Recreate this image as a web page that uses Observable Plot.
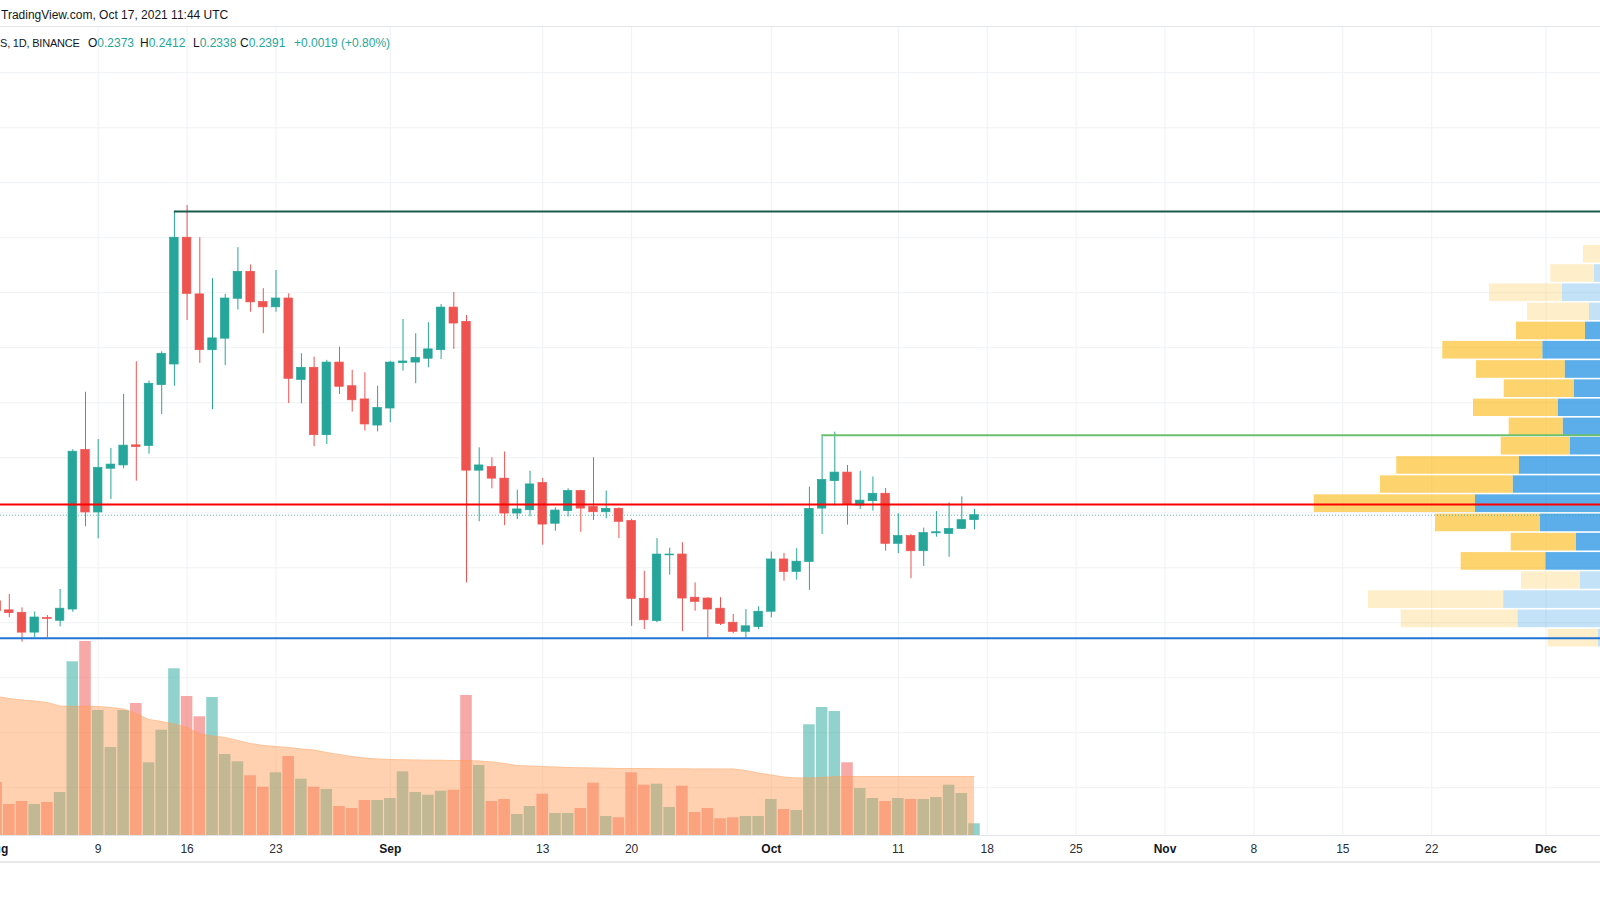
<!DOCTYPE html>
<html>
<head>
<meta charset="utf-8">
<script src="https://cdn.jsdelivr.net/npm/d3@7"></script>
<script src="https://cdn.jsdelivr.net/npm/@observablehq/plot@0.6"></script>
<style>
  html, body { margin: 0; padding: 0; background: #fff; overflow: hidden; }
  #wrap { position: relative; width: 1600px; height: 900px; overflow: hidden; font-family: "Liberation Sans", Arial, sans-serif; color: #131722; }
  #hdr { position: absolute; left: 0; top: 0; width: 1600px; height: 26px; border-bottom: 1px solid #e3e5ec; }
  #hdr span { position: absolute; left: 1px; top: 8px; font-size: 12px; white-space: nowrap; }
  .layer { position: absolute; left: 0; top: 27px; }
  .layer svg { display: block; overflow: hidden; }
  #legend { position: absolute; left: 0; top: 36px; width: 1600px; height: 16px; font-size: 12px; white-space: nowrap; }
  #legend > span { position: absolute; top: 0; }
  .v { color: #26a69a; }
  #axisline { position: absolute; left: 0; top: 861px; width: 1600px; height: 2px; background: #e6e8ee; }
</style>
</head>
<body>
<div id="wrap">
  <div id="hdr"><span>TradingView.com, Oct 17, 2021 11:44 UTC</span></div>
  <div id="layerA" class="layer"></div>
  <div id="layerB" class="layer"></div>
  <div id="layerC" class="layer"></div>
  <div id="layerD" class="layer"></div>
  <div id="legend">
    <span style="left:0px;top:1px;font-size:11px;letter-spacing:-0.2px">S, 1D, BINANCE</span>
    <span style="left:88px">O<span class="v">0.2373</span></span>
    <span style="left:140px">H<span class="v">0.2412</span></span>
    <span style="left:193px">L<span class="v">0.2338</span></span>
    <span style="left:240px">C<span class="v">0.2391</span></span>
    <span style="left:294px" class="v">+0.0019 (+0.80%)</span>
  </div>
  <div id="axisline"></div>
</div>
<script>
// ---------------- DATA ----------------
const dates = [
  "2021-08-01","2021-08-02","2021-08-03","2021-08-04","2021-08-05","2021-08-06","2021-08-07","2021-08-08","2021-08-09","2021-08-10",
  "2021-08-11","2021-08-12","2021-08-13","2021-08-14","2021-08-15","2021-08-16","2021-08-17","2021-08-18","2021-08-19","2021-08-20",
  "2021-08-21","2021-08-22","2021-08-23","2021-08-24","2021-08-25","2021-08-26","2021-08-27","2021-08-28","2021-08-29","2021-08-30",
  "2021-08-31","2021-09-01","2021-09-02","2021-09-03","2021-09-04","2021-09-05","2021-09-06","2021-09-07","2021-09-08","2021-09-09",
  "2021-09-10","2021-09-11","2021-09-12","2021-09-13","2021-09-14","2021-09-15","2021-09-16","2021-09-17","2021-09-18","2021-09-19",
  "2021-09-20","2021-09-21","2021-09-22","2021-09-23","2021-09-24","2021-09-25","2021-09-26","2021-09-27","2021-09-28","2021-09-29",
  "2021-09-30","2021-10-01","2021-10-02","2021-10-03","2021-10-04","2021-10-05","2021-10-06","2021-10-07","2021-10-08","2021-10-09",
  "2021-10-10","2021-10-11","2021-10-12","2021-10-13","2021-10-14","2021-10-15","2021-10-16","2021-10-17"
];
const opens = [
  0.2078,0.2045,0.2036,0.1964,0.2017,0.2007,0.2048,0.2628,0.2401,0.2560,
  0.2572,0.2645,0.2643,0.2864,0.2939,0.3400,0.3194,0.2991,0.3033,0.3178,
  0.3276,0.3166,0.3147,0.3179,0.2883,0.2927,0.2682,0.2946,0.2860,0.2812,
  0.2717,0.2779,0.2944,0.2946,0.2960,0.2991,0.3146,0.3094,0.2553,0.2566,
  0.2524,0.2397,0.2409,0.2508,0.2360,0.2406,0.2479,0.2421,0.2402,0.2414,
  0.2370,0.2087,0.2006,0.2245,0.2248,0.2091,0.2088,0.2051,0.2000,0.1967,
  0.1984,0.2040,0.2230,0.2185,0.2221,0.2415,0.2515,0.2546,0.2426,0.2442,
  0.2469,0.2287,0.2315,0.2260,0.2325,0.2323,0.2341,0.2373
];
const highs = [
  0.2095,0.2103,0.2054,0.2039,0.2026,0.2121,0.2629,0.2838,0.2666,0.2634,
  0.2830,0.2949,0.2879,0.2985,0.3495,0.3517,0.3400,0.3251,0.3194,0.3364,
  0.3301,0.3215,0.3281,0.3196,0.2978,0.2966,0.2954,0.3002,0.2918,0.2909,
  0.2860,0.2951,0.3103,0.3051,0.3091,0.3157,0.3201,0.3117,0.2636,0.2600,
  0.2621,0.2482,0.2551,0.2525,0.2418,0.2487,0.2482,0.2600,0.2479,0.2418,
  0.2376,0.2187,0.2306,0.2271,0.2291,0.2145,0.2091,0.2091,0.2030,0.2048,
  0.2058,0.2257,0.2252,0.2269,0.2493,0.2682,0.2693,0.2572,0.2551,0.2530,
  0.2488,0.2396,0.2321,0.2344,0.2404,0.2436,0.2458,0.2412
];
const lows = [
  0.2030,0.2018,0.1929,0.1945,0.1945,0.1985,0.2038,0.2349,0.2305,0.2448,
  0.2560,0.2515,0.2613,0.2757,0.2860,0.3099,0.2943,0.2775,0.2935,0.3137,
  0.3129,0.3051,0.3129,0.2797,0.2796,0.2640,0.2648,0.2830,0.2766,0.2697,
  0.2694,0.2727,0.2915,0.2869,0.2927,0.2957,0.2994,0.2145,0.2367,0.2487,
  0.2353,0.2375,0.2385,0.2282,0.2333,0.2385,0.2329,0.2372,0.2378,0.2306,
  0.1987,0.1975,0.2000,0.2173,0.1967,0.2042,0.1945,0.1990,0.1960,0.1945,
  0.1975,0.2018,0.2151,0.2155,0.2118,0.2321,0.2424,0.2355,0.2412,0.2406,
  0.2260,0.2251,0.2160,0.2205,0.2311,0.2238,0.2339,0.2338
];
const closes = [
  0.2042,0.2035,0.1964,0.2019,0.2014,0.2051,0.2622,0.2401,0.2563,0.2575,
  0.2644,0.2639,0.2869,0.2978,0.3400,0.3196,0.2991,0.3034,0.3179,0.3276,
  0.3165,0.3147,0.3179,0.2887,0.2927,0.2682,0.2946,0.2858,0.2809,0.2721,
  0.2781,0.2946,0.2950,0.2963,0.2994,0.3146,0.3088,0.2553,0.2572,0.2524,
  0.2397,0.2412,0.2503,0.2357,0.2408,0.2479,0.2415,0.2402,0.2414,0.2367,
  0.2087,0.2009,0.2248,0.2248,0.2088,0.2076,0.2048,0.1996,0.1967,0.1987,
  0.2040,0.2230,0.2185,0.2222,0.2414,0.2519,0.2546,0.2430,0.2444,0.2469,
  0.2287,0.2315,0.2260,0.2326,0.2329,0.2341,0.2373,0.2391
];
// daily volume (millions)
const volumes = [
  530,310,340,310,330,430,1737,1940,1250,880,
  1250,1320,727,1053,1667,1390,1187,1380,810,737,
  597,483,627,790,563,483,460,290,270,350,
  350,370,637,430,403,443,453,1400,700,340,
  360,210,290,413,220,220,270,523,190,177,
  627,503,513,280,493,230,270,167,177,190,
  190,360,260,250,1107,1280,1240,727,470,370,
  340,370,360,360,380,503,420,117
];
// volume moving average (millions)
const volumeMA = [
  1390,1370,1355,1345,1330,1295,1290,1293,1290,1280,
  1265,1220,1160,1140,1115,1080,1015,995,980,950,
  920,900,890,880,865,855,830,810,790,775,
  765,760,757,755,753,752,750,750,745,735,
  720,700,695,690,685,680,677,675,673,670,
  670,670,668,667,667,666,666,665,665,650,
  625,605,585,575,575,580,587,590,590,590,
  590,590,590,590,590,590,590,590
];
// time axis
const tickDates = ["2021-08-01","2021-08-09","2021-08-16","2021-08-23","2021-09-01","2021-09-13","2021-09-20","2021-10-01",
                   "2021-10-11","2021-10-18","2021-10-25","2021-11-01","2021-11-08","2021-11-15","2021-11-22","2021-12-01"];
const tickLabels = ["Aug","9","16","23","Sep","13","20","Oct","11","18","25","Nov","8","15","22","Dec"];
const monthTicks = ["Aug","Sep","Oct","Nov","Dec"];
const gridPrices = [0.14,0.16,0.18,0.20,0.22,0.24,0.26,0.28,0.30,0.32,0.34,0.36,0.38,0.40];
// drawn levels
const topLevelPrice = 0.3495, topLevelStart = "2021-08-15";
const midLevelPrice = 0.2682, midLevelStart = "2021-10-05";
const redLevelPrice = 0.2430;
const blueLevelPrice = 0.1944;
const lastClose = 0.2391;
// volume profile (visible range) rows
const vpHigh = [0.3375,0.3305,0.3235,0.3165,0.3096,0.3026,0.2956,0.2886,0.2816,0.2747,0.2677,0.2607,0.2537,0.2468,0.2398,0.2328,0.2258,0.2188,0.2119,0.2049,0.1979];
const vpLow  = [0.3305,0.3235,0.3165,0.3096,0.3026,0.2956,0.2886,0.2816,0.2747,0.2677,0.2607,0.2537,0.2468,0.2398,0.2328,0.2258,0.2188,0.2119,0.2049,0.1979,0.1909];
const vpUp   = [550,660,980,710,750,1177,953,863,1023,973,903,1410,1473,1850,1200,840,1147,800,1567,1423,620];
const vpDown = [220,437,730,620,690,1000,887,700,847,540,690,1227,1327,1613,1050,653,846,590,1353,1170,503];
const vpValueArea = [false,false,false,false,true,true,true,true,true,true,true,true,true,true,true,true,true,false,false,false,false];

// ---------------- SETUP ----------------
const UP = "#26a69a", DOWN = "#ef5350";
const DAY = 864e5;
const FONT = "'Liberation Sans', Arial, sans-serif";
const utc = s => new Date(s + "T00:00:00Z");
const xDomain = [new Date(Date.UTC(2021, 7, 1, 7, 22)), new Date(Date.UTC(2021, 11, 5, 6, 58))];
const priceDomain = [0.12263, 0.41645];
const W = 1600, H = 835, MB = 27;

const candles = dates.map((d, i) => ({
  date: utc(d), o: opens[i], h: highs[i], l: lows[i], c: closes[i],
  v: volumes[i], ma: volumeMA[i], up: closes[i] >= opens[i]
}));
const shift = (t, k) => new Date(+t + k * DAY);
const ticks = tickDates.map(utc);
const labelOf = new Map(ticks.map((t, i) => [+t, tickLabels[i]]));
const monthTickDates = ticks.filter(t => monthTicks.includes(labelOf.get(+t)));
const dayTickDates = ticks.filter(t => !monthTicks.includes(labelOf.get(+t)));

function base(extra) {
  return Object.assign({
    width: W, height: H, marginTop: 0, marginRight: 0, marginBottom: MB, marginLeft: 0,
    style: {background: "transparent", overflow: "hidden", fontFamily: FONT, fontSize: "12px", color: "#131722"}
  }, extra);
}
const grid = "#eff1f4";

// Layer A: grid + time axis
const A = Plot.plot(base({
  x: {type: "utc", domain: xDomain},
  y: {domain: priceDomain, axis: null},
  marks: [
    Plot.ruleY(gridPrices, {stroke: grid}),
    Plot.ruleX(ticks, {stroke: grid}),
    Plot.ruleY([priceDomain[0]], {stroke: "#e3e5ec"}),
    Plot.axisX(dayTickDates, {tickSize: 0, tickPadding: 9, tickFormat: d => labelOf.get(+d), label: null, fill: "#2a2e39"}),
    Plot.axisX(monthTickDates, {tickSize: 0, tickPadding: 9, tickFormat: d => labelOf.get(+d), label: null, fill: "#131722", fontWeight: "bold"})
  ]
}));
document.getElementById("layerA").append(A);

// Layer B: volume + volume MA
const B = Plot.plot(base({
  x: {type: "utc", domain: xDomain, axis: null},
  y: {domain: [0, 2500], range: [808, 558], axis: null},
  color: {type: "identity"},
  marks: [
    Plot.rect(candles, {
      x1: d => shift(d.date, -0.455), x2: d => shift(d.date, 0.455), y1: 0, y2: "v",
      fill: d => d.up ? "rgba(38,166,154,0.5)" : "rgba(239,83,80,0.5)"
    }),
    Plot.area(candles, {x1: "date", y1: 0, y2: "ma", fill: "rgb(255,152,80)", fillOpacity: 0.45}),
    Plot.line(candles, {x: "date", y: "ma", stroke: "rgb(255,152,80)", strokeOpacity: 0.25, strokeWidth: 1})
  ]
}));
document.getElementById("layerB").append(B);

// Layer C: volume profile (right anchored)
const vp = vpHigh.map((hi, i) => ({hi, lo: vpLow[i], up: vpUp[i], down: vpDown[i], va: vpValueArea[i]}));
const C = Plot.plot(base({
  x: {domain: [0, 3463], range: [1660, 1313.7], axis: null},
  y: {domain: priceDomain, axis: null},
  color: {type: "identity"},
  marks: [
    Plot.rect(vp, {x1: 0, x2: "up", y1: "lo", y2: "hi", insetTop: 0.8, insetBottom: 0.8,
      fill: d => d.va ? "rgba(21,140,225,0.7)" : "rgba(21,140,225,0.25)"}),
    Plot.rect(vp, {x1: "up", x2: d => d.up + d.down, y1: "lo", y2: "hi", insetTop: 0.8, insetBottom: 0.8,
      fill: d => d.va ? "rgba(251,192,45,0.7)" : "rgba(251,192,45,0.25)"})
  ]
}));
document.getElementById("layerC").append(C);

// Layer D: candles and drawn levels
const D = Plot.plot(base({
  x: {type: "utc", domain: xDomain, axis: null},
  y: {domain: priceDomain, axis: null},
  color: {type: "identity"},
  marks: [
    Plot.ruleY([lastClose], {stroke: UP, strokeOpacity: 0.75, strokeDasharray: "1,2"}),
    Plot.ruleX(candles, {x: "date", y1: "l", y2: "h", stroke: d => d.up ? UP : DOWN, strokeWidth: 1}),
    Plot.rect(candles, {
      x1: d => shift(d.date, -0.335), x2: d => shift(d.date, 0.335),
      y1: d => Math.min(d.o, d.c), y2: d => Math.max(d.o, d.c),
      fill: d => d.up ? UP : DOWN, stroke: d => d.up ? UP : DOWN, strokeWidth: 0.7
    }),
    Plot.ruleY([redLevelPrice], {stroke: "#ff0000", strokeWidth: 2}),
    Plot.ruleY([blueLevelPrice], {stroke: "#1f74d4", strokeWidth: 2}),
    Plot.ruleY([{p: topLevelPrice, from: utc(topLevelStart)}], {y: "p", x1: "from", x2: xDomain[1], stroke: "#1b5b4c", strokeWidth: 2}),
    Plot.ruleY([{p: midLevelPrice, from: utc(midLevelStart)}], {y: "p", x1: "from", x2: xDomain[1], stroke: "#6cbf6c", strokeWidth: 2})
  ]
}));
document.getElementById("layerD").append(D);
</script>
</body>
</html>
